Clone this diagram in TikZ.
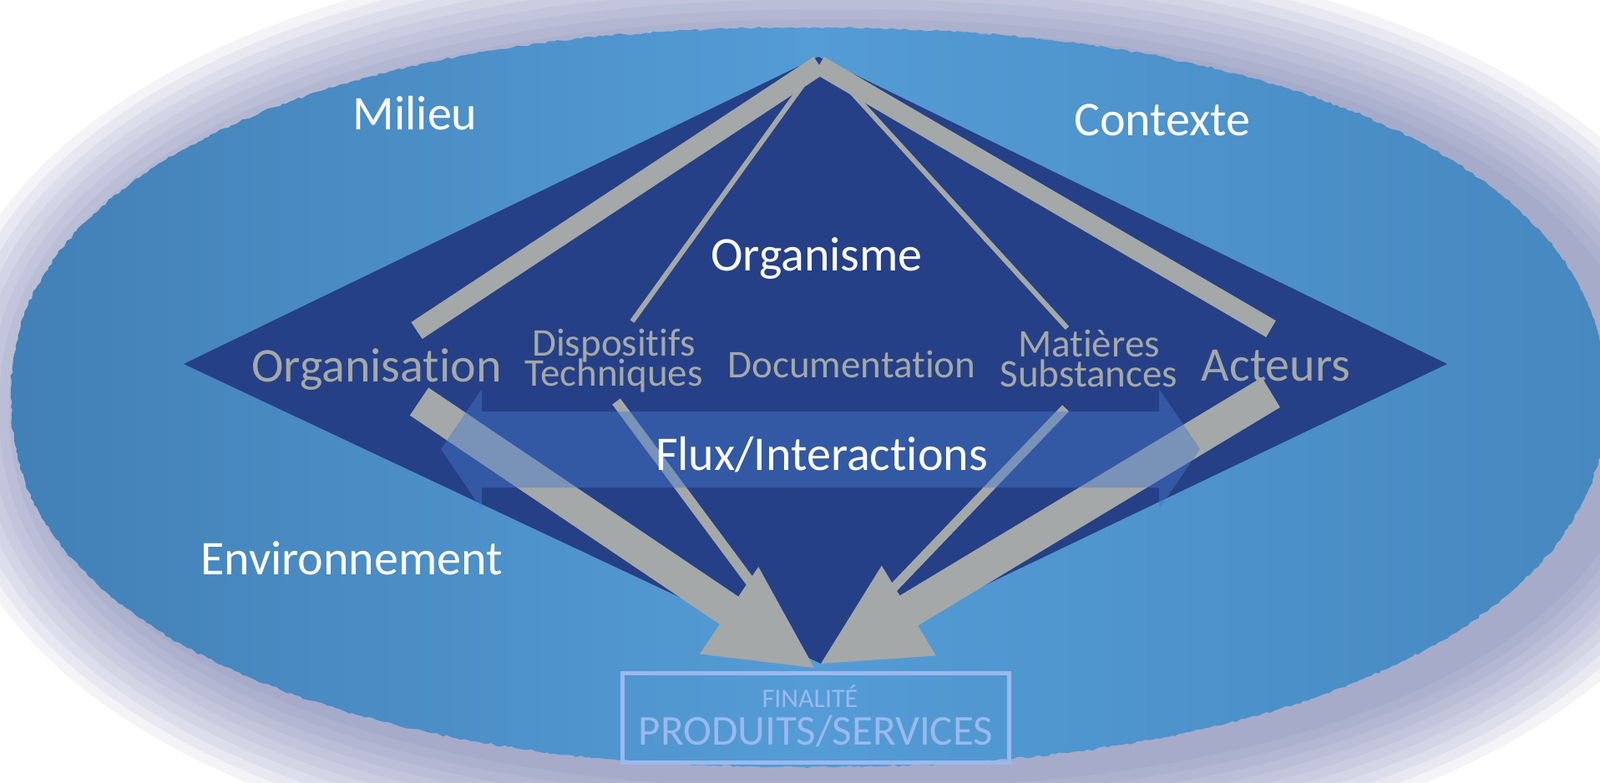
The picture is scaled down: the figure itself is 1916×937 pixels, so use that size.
\documentclass[tikz,border=0pt]{standalone}
\usepackage{fontspec}
\setmainfont{Carlito}[Ligatures=NoCommon]
\usetikzlibrary{calc,decorations.pathmorphing}
\definecolor{navy}{RGB}{37,64,134}
\definecolor{barc}{RGB}{164,168,168}
\definecolor{fluxc}{RGB}{70,120,204}
\definecolor{boxc}{RGB}{154,185,238}
\definecolor{ellL}{RGB}{66,128,182}
\definecolor{ellM}{RGB}{84,156,214}
\definecolor{ellR}{RGB}{70,136,192}
\definecolor{shadowc}{RGB}{96,106,162}
\newcommand{\tightlines}{\lineskiplimit=-100pt\relax}
\newcommand{\fatarrow}[6]{% start, tip, half shaft, head length, half head, name
  \coordinate (#6b) at ($(#2)!#4!(#1)$);
  \fill[barc] ($(#1)!#3!90:(#2)$) -- ($(#6b)!#3!90:(#2)$) -- ($(#6b)!#5!90:(#2)$) -- (#2)
     -- ($(#6b)!#5!-90:(#2)$) -- ($(#6b)!#3!-90:(#2)$) -- ($(#1)!#3!-90:(#2)$) -- cycle;
}
% superellipse path: cx, cy, rx, ry
\newcommand{\supell}[4]{plot[domain=0.5:360.5, samples=241, variable=\t]
  ({#1+(#3)*cos(\t)*abs(cos(\t))^(-0.0909)}, {#2+(#4)*sin(\t)*abs(sin(\t))^(-0.0909)}) -- cycle}
\begin{document}
\begin{tikzpicture}[x=1pt,y=-1pt,
  bigt/.style={font=\fontsize{58}{58}\selectfont, anchor=base, inner sep=0pt},
  midt/.style={font=\fontsize{47}{36}\selectfont\tightlines, inner sep=0pt, align=center},
  wht/.style={text=white},
  gry/.style={text=barc},
  bar/.style={draw=barc, line cap=butt}]
\useasboundingbox (0,0) rectangle (1916,937);
\clip (0,0) rectangle (1916,937);
\fill[white] (0,0) rectangle (1916,937);
% soft shadow
\foreach \i in {1,...,10}{
  \fill[shadowc, opacity=0.075] \supell{1002}{490}{955+\i*12}{443+\i*12};
}
% main ellipse
\shade[decorate, decoration={random steps, segment length=5pt, amplitude=1.5pt},
  left color=ellL, right color=ellR, middle color=ellM] \supell{968}{476}{955}{443};
% diamond
\coordinate (dl) at (220,436);
\coordinate (dt) at (980,68);
\coordinate (dr) at (1733,436);
\coordinate (db) at (983,795);
\fill[navy] (dl) -- (dt) -- (dr) -- (db) -- cycle;
% chevron bars and thin lines
\coordinate (apex) at (981,78);
\coordinate (orgtop) at (499,396);
\coordinate (acttop) at (1522,394);
\coordinate (thinLa) at (977,80);
\coordinate (thinLb) at (757,385);
\coordinate (thinRa) at (992,80);
\coordinate (thinRb) at (1278,393);
\draw[bar, line width=6pt] (thinLa) -- (thinLb);
\draw[bar, line width=6pt] (thinRa) -- (thinRb);
\draw[bar, line width=24pt] (apex) -- (orgtop);
\draw[bar, line width=23pt] (apex) -- (acttop);
% lower arrows
\coordinate (tipL) at (975,800);
\coordinate (tipR) at (983,795);
\coordinate (orgbot) at (502,481);
\coordinate (actbot) at (1522,470);
\coordinate (dispbot) at (738,481);
\coordinate (matbot) at (1276,489);
\draw[bar, line width=12pt] (dispbot) -- ($(tipL)!75pt!(dispbot)$);
\draw[bar, line width=11pt] (matbot) -- ($(tipR)!75pt!(matbot)$);
\fatarrow{orgbot}{tipL}{20pt}{123pt}{63pt}{al}
\fatarrow{actbot}{tipR}{21pt}{123pt}{63pt}{ar}
% gray labels
\node[bigt, gry] (organisation) at (451,457) {Organisation};
\node[bigt, gry] (acteurs) at (1528,456) {Acteurs};
\node[midt, gry, anchor=base] (disp) at (735,462) {Dispositifs\\Techniques};
\node[midt, gry, anchor=base] (doc) at (1020,452) {Documentation};
\node[midt, gry, anchor=base] (mat) at (1304,463) {Matières\\Substances};
% flux double arrow
\coordinate (fluxl) at (528,538);
\coordinate (fluxr) at (1437,538);
\fill[fluxc, opacity=0.45] (fluxl) -- ++(49,-72) -- ++(0,27) -- ++(811,0) -- ++(0,-27)
   -- (fluxr) -- ++(-49,72) -- ++(0,-26) -- ++(-811,0) -- ++(0,26) -- cycle;
% white labels
\node[bigt, wht] (milieu) at (497,155) {Milieu};
\node[bigt, wht] (contexte) at (1392,162) {Contexte};
\node[bigt, wht] (organisme) at (978,324) {Organisme};
\node[bigt, wht] (flux) at (984,563) {Flux/Interactions};
\node[bigt, wht] (env) at (421,688) {Environnement};
% finalite box
\node[draw=boxc, line width=5pt, minimum width=463pt, minimum height=107pt, inner sep=0pt] (box) at (976.5,859.5) {};
\node[anchor=base, inner sep=0pt, text=boxc, font=\fontsize{32}{32}\selectfont] (fin) at (970,847) {FINALITÉ};
\node[anchor=base, inner sep=0pt, text=boxc, font=\fontsize{51}{51}\selectfont] (prod) at (977,892) {PRODUITS/SERVICES};
\end{tikzpicture}
\end{document}
